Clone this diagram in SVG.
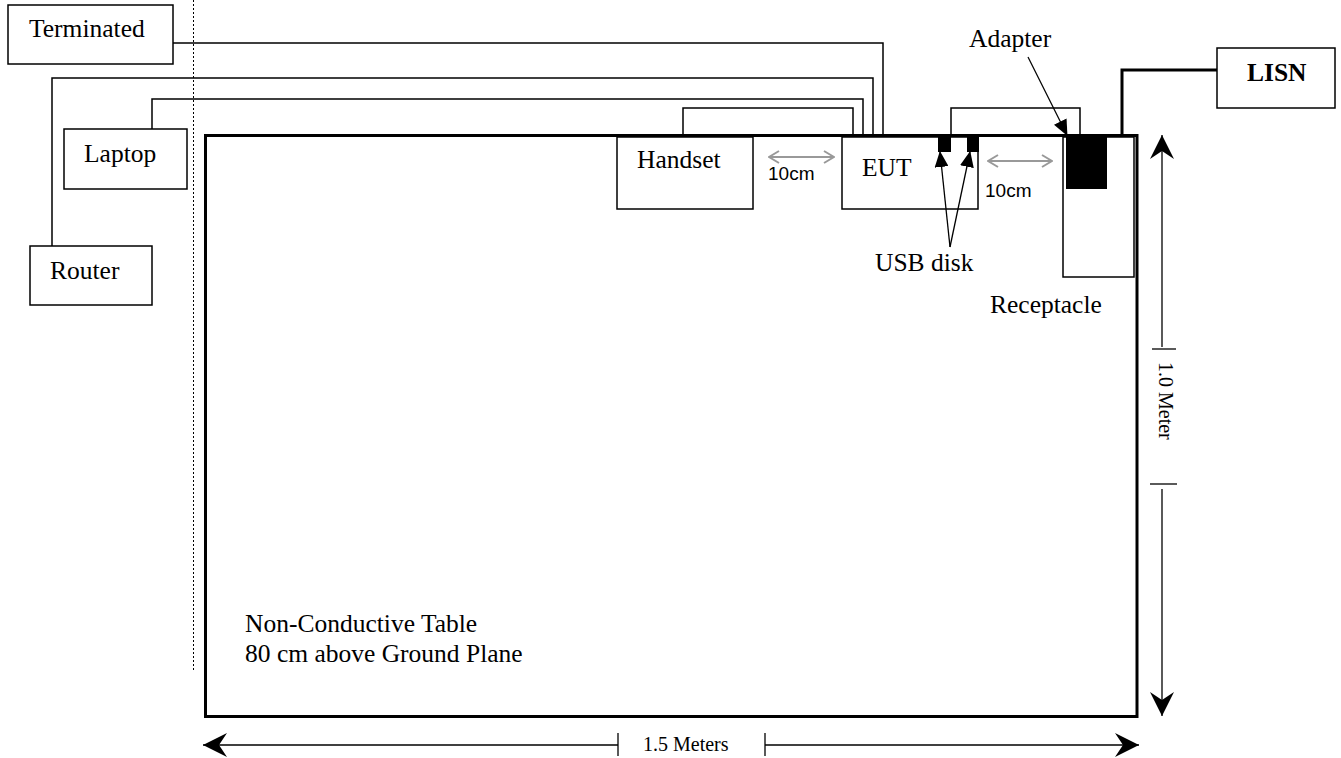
<svg xmlns="http://www.w3.org/2000/svg" width="1341" height="758" viewBox="0 0 1341 758">
<style>
  .box { fill: #fff; stroke: #000; stroke-width: 1.5; }
  .lbl { font-family: "Liberation Serif", "Times New Roman", serif; font-size: 25.5px; fill: #000; }
  .dim { font-family: "Liberation Serif", "Times New Roman", serif; font-size: 20px; fill: #000; }
  .cm { font-family: "Liberation Sans", Arial, sans-serif; font-size: 19px; fill: #000; }
  .cable { fill: none; stroke: #000; stroke-width: 1.5; }
  .thin { fill: none; stroke: #000; stroke-width: 1.3; }
  .gray { fill: none; stroke: #999; stroke-width: 2; }
</style>
<defs>
  <marker id="tri" viewBox="0 0 16 14" refX="15" refY="7" markerWidth="16" markerHeight="14" markerUnits="userSpaceOnUse" orient="auto">
    <path d="M0,0 L16,7 L0,14 Z" fill="#000"/>
  </marker>
  <marker id="vgray" viewBox="0 0 12 14" refX="11" refY="7" markerWidth="12" markerHeight="14" markerUnits="userSpaceOnUse" orient="auto-start-reverse">
    <path d="M1,1 L11,7 L1,13" fill="none" stroke="#999" stroke-width="2"/>
  </marker>
  <marker id="stealth" viewBox="0 0 24 24" refX="24" refY="12" markerWidth="24" markerHeight="24" markerUnits="userSpaceOnUse" orient="auto">
    <path d="M0,0 L24,12 L0,24 L8,12 Z" fill="#000"/>
  </marker>
</defs>

<!-- dotted boundary -->
<line x1="193.5" y1="0" x2="193.5" y2="670" stroke="#000" stroke-width="1" stroke-dasharray="2,2"/>

<!-- table -->
<g id="table">
  <rect x="205.5" y="135.5" width="931.5" height="581" fill="none" stroke="#000" stroke-width="3"/>
  <text class="lbl" x="245" y="632">Non-Conductive Table</text>
  <text class="lbl" x="245" y="662">80 cm above Ground Plane</text>
</g>

<!-- connectors -->
<g id="connectors">
  <polyline class="cable" points="173,43 883,43 883,135"/>
  <polyline class="cable" points="52,246 52,78 873,78 873,135"/>
  <polyline class="cable" points="152,129 152,99 863,99 863,135"/>
  <polyline class="cable" points="683,135 683,108 853,108 853,135"/>
  <polyline class="cable" points="951,137 951,108 1080,108 1080,135"/>
  <polyline fill="none" stroke="#000" stroke-width="3" points="1122,135 1122,70 1217,70"/>
  <!-- 10cm spacing arrows -->
  <line class="gray" x1="769" y1="157" x2="834" y2="157" marker-start="url(#vgray)" marker-end="url(#vgray)"/>
  <line class="gray" x1="988" y1="161" x2="1052" y2="161" marker-start="url(#vgray)" marker-end="url(#vgray)"/>
  <!-- dimensions -->
  <line class="thin" x1="1162" y1="347" x2="1162" y2="135" marker-end="url(#stealth)"/>
  <line class="thin" x1="1152" y1="349" x2="1176" y2="349"/>
  <line class="thin" x1="1150" y1="484" x2="1177" y2="484"/>
  <line class="thin" x1="1162" y1="489" x2="1162" y2="716" marker-end="url(#stealth)"/>
  <line class="thin" x1="618" y1="745" x2="203" y2="745" marker-end="url(#stealth)"/>
  <line class="thin" x1="618" y1="733" x2="618" y2="756"/>
  <line class="thin" x1="765" y1="733" x2="765" y2="756"/>
  <line class="thin" x1="765" y1="745" x2="1139" y2="745" marker-end="url(#stealth)"/>
</g>

<g id="terminated">
  <rect class="box" x="8" y="5" width="165" height="59"/>
  <text class="lbl" x="29" y="37">Terminated</text>
</g>
<g id="laptop">
  <rect class="box" x="64" y="129" width="123" height="60"/>
  <text class="lbl" x="84" y="162">Laptop</text>
</g>
<g id="router">
  <rect class="box" x="30" y="246" width="122" height="59"/>
  <text class="lbl" x="50" y="279">Router</text>
</g>
<g id="handset">
  <rect class="box" x="617" y="137" width="136" height="72"/>
  <text class="lbl" x="637" y="168">Handset</text>
</g>
<g id="eut">
  <rect class="box" x="842" y="137" width="136" height="72"/>
  <text class="lbl" x="862" y="176">EUT</text>
</g>
<g id="usb">
  <rect x="938" y="136" width="13" height="16" fill="#000"/>
  <rect x="967" y="136" width="12" height="16" fill="#000"/>
  <text class="lbl" x="875" y="271">USB disk</text>
</g>
<g id="receptacle">
  <rect class="box" x="1063" y="137" width="71" height="140"/>
  <rect x="1066" y="136" width="41" height="53" fill="#000"/>
  <text class="lbl" x="990" y="313">Receptacle</text>
</g>
<g id="adapter">
  <text class="lbl" x="969" y="47">Adapter</text>
</g>
<g id="lisn">
  <rect class="box" x="1217" y="48" width="118" height="60"/>
  <text class="lbl" x="1247" y="81" font-weight="bold">LISN</text>
</g>

<!-- label pointers -->
<g id="pointers">
  <line class="thin" x1="950" y1="247" x2="940" y2="152" marker-end="url(#tri)"/>
  <line class="thin" x1="950" y1="247" x2="970" y2="152" marker-end="url(#tri)"/>
  <line class="thin" x1="1028" y1="57" x2="1067" y2="135" marker-end="url(#tri)"/>
</g>

<g id="labels">
  <text class="cm" x="768" y="180">10cm</text>
  <text class="cm" x="985" y="197">10cm</text>
  <text class="dim" x="643" y="751">1.5 Meters</text>
  <text class="dim" transform="translate(1159,362) rotate(90)">1.0 Meter</text>
</g>
</svg>
